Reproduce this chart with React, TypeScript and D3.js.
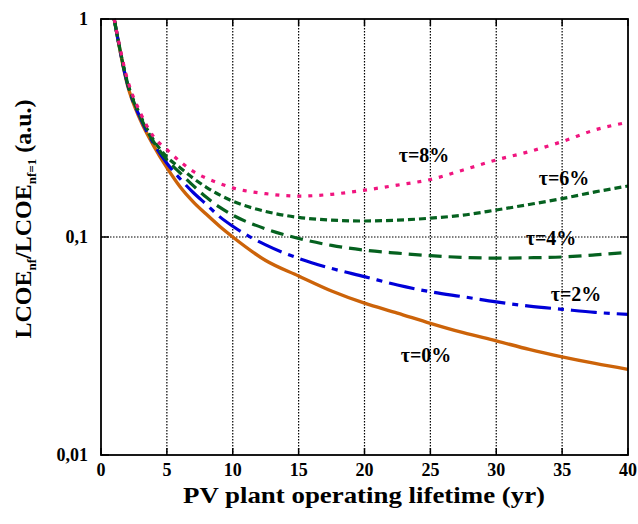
import React from "react";
import * as d3 from "d3";

const years = [1, 2, 3, 4, 5, 6, 7, 8, 9, 10, 12.5, 15, 17.5, 20, 22.5, 25, 27.5, 30, 32.5, 35, 37.5, 40];
const tau0 = [1, 0.5, 0.343, 0.262, 0.208, 0.17, 0.145, 0.127, 0.112, 0.1, 0.078, 0.0662, 0.0565, 0.0497, 0.0448, 0.0402, 0.0364, 0.0334, 0.0305, 0.0282, 0.0263, 0.0247];
const tau2 = [1, 0.505, 0.35, 0.268, 0.218, 0.185, 0.16, 0.141, 0.124, 0.112, 0.092, 0.0798, 0.0717, 0.0658, 0.0602, 0.0561, 0.0532, 0.0504, 0.0482, 0.0466, 0.0451, 0.0442];
const tau4 = [1, 0.51, 0.355, 0.273, 0.226, 0.197, 0.172, 0.152, 0.137, 0.126, 0.109, 0.0985, 0.0915, 0.087, 0.0843, 0.0821, 0.0806, 0.08, 0.0803, 0.081, 0.0828, 0.0851];
const tau6 = [1, 0.515, 0.36, 0.278, 0.233, 0.208, 0.186, 0.169, 0.156, 0.146, 0.131, 0.123, 0.1195, 0.1184, 0.1195, 0.122, 0.126, 0.133, 0.141, 0.15, 0.161, 0.1714];
const tau8 = [1, 0.53, 0.37, 0.288, 0.252, 0.222, 0.2, 0.186, 0.176, 0.168, 0.158, 0.154, 0.157, 0.164, 0.173, 0.1835, 0.203, 0.2256, 0.2465, 0.274, 0.31, 0.336];

const xTicks = [0, 5, 10, 15, 20, 25, 30, 35, 40];
const yTicks = [1, 0.1, 0.01];
const yTickLabels = ["1", "0,1", "0,01"];
const seriesLabels = ["τ=0%", "τ=2%", "τ=4%", "τ=6%", "τ=8%"];

const FONT = "Liberation Serif";
const tstyle = { fontFamily: "'Liberation Serif', 'DejaVu Serif', serif", fontWeight: 700 as const };

export default function App() {
  const left = 101, right = 628, top = 19, bottom = 455;
  const x = d3.scaleLinear().domain([0, 40]).range([left, right]);
  const y = d3.scaleLog().domain([0.01, 1]).range([bottom, top]);

  const line = d3
    .line<[number, number]>()
    .x((d) => x(d[0]))
    .y((d) => y(d[1]))
    .curve(d3.curveMonotoneX);

  const series = [
    { vals: tau0, color: "#cc6309", dash: "none", w: 3.4, label: seriesLabels[0], lx: 426, ly: 362 },
    { vals: tau2, color: "#0000d8", dash: "26 7 6 7", w: 3.2, label: seriesLabels[1], lx: 576, ly: 301 },
    { vals: tau4, color: "#05611f", dash: "13 7", w: 3.2, label: seriesLabels[2], lx: 551, ly: 245 },
    { vals: tau6, color: "#05611f", dash: "7 4", w: 3.2, label: seriesLabels[3], lx: 564, ly: 185 },
    { vals: tau8, color: "#f0157f", dash: "4 7", w: 3.2, label: seriesLabels[4], lx: 424, ly: 162 },
  ];

  return (
    <svg
      width={638}
      height={524}
      style={{ position: "absolute", left: 0, top: 0, background: "#fff" }}
      fontFamily={FONT}
    >
      <rect x={0} y={0} width={638} height={524} fill="#fff" />
      {xTicks.slice(1, -1).map((t) => (
        <line key={"gx" + t} x1={x(t)} x2={x(t)} y1={top} y2={bottom} stroke="#000" strokeWidth={1.2} strokeDasharray="1.5 1.5" />
      ))}
      <line x1={left} x2={right} y1={y(0.1)} y2={y(0.1)} stroke="#000" strokeWidth={1.2} strokeDasharray="1.5 1.5" />
      {xTicks.map((t) => (
        <g key={"tx" + t}>
          <line x1={x(t)} x2={x(t)} y1={bottom} y2={bottom - 7} stroke="#000" strokeWidth={1.5} />
          <line x1={x(t)} x2={x(t)} y1={top} y2={top + 7} stroke="#000" strokeWidth={1.5} />
        </g>
      ))}
      {yTicks.map((t) => (
        <g key={"ty" + t}>
          <line x1={left} x2={left + 8} y1={y(t)} y2={y(t)} stroke="#000" strokeWidth={1.5} />
          <line x1={right} x2={right - 8} y1={y(t)} y2={y(t)} stroke="#000" strokeWidth={1.5} />
        </g>
      ))}
      <g>
        {series.map((s, i) => (
          <path
            key={i}
            d={line(years.map((yr, j) => [yr, s.vals[j]] as [number, number])) || ""}
            fill="none"
            stroke={s.color}
            strokeWidth={s.w}
            strokeDasharray={s.dash}
          />
        ))}
      </g>
      <rect x={left} y={top} width={right - left} height={bottom - top} fill="none" stroke="#000" strokeWidth={1.8} />
      {xTicks.map((t) => (
        <text key={"lx" + t} x={x(t)} y={476} textAnchor="middle" fontSize={18} style={tstyle}>
          {t}
        </text>
      ))}
      {yTicks.map((t, i) => (
        <text key={"ly" + t} x={88} y={y(t) + 6} textAnchor="end" fontSize={18} style={tstyle}>
          {yTickLabels[i]}
        </text>
      ))}
      {series.map((s, i) => (
        <text key={"sl" + i} x={s.lx} y={s.ly} textAnchor="middle" fontSize={20} style={tstyle}>
          {s.label}
        </text>
      ))}
      <text x={364} y={503} textAnchor="middle" fontSize={24} style={tstyle} textLength={362} lengthAdjust="spacingAndGlyphs">
        PV plant operating lifetime (yr)
      </text>
      <text transform="translate(31,219) rotate(-90)" textAnchor="middle" fontSize={24} style={tstyle}>
        LCOE
        <tspan fontSize={13} dy={5}>nf</tspan>
        <tspan dy={-5}>/LCOE</tspan>
        <tspan fontSize={13} dy={5}>nf=1</tspan>
        <tspan dy={-5}> (a.u.)</tspan>
      </text>
    </svg>
  );
}
